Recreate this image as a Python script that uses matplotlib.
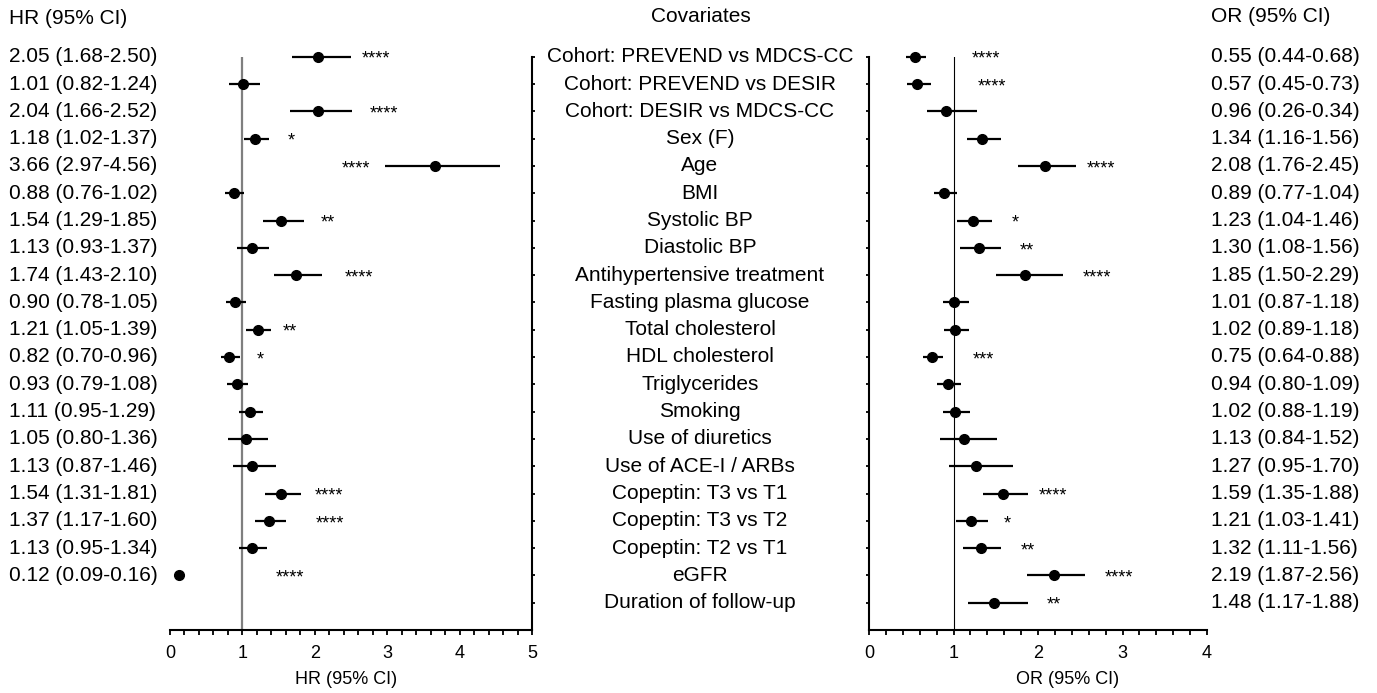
import matplotlib
matplotlib.use("Agg")
import matplotlib.pyplot as plt
from matplotlib.transforms import blended_transform_factory
from matplotlib.ticker import MultipleLocator

plt.rcParams["font.family"] = ["Liberation Sans", "DejaVu Sans"]

covariates = [
    "Cohort: PREVEND vs MDCS-CC", "Cohort: PREVEND vs DESIR", "Cohort: DESIR vs MDCS-CC",
    "Sex (F)", "Age", "BMI", "Systolic BP", "Diastolic BP", "Antihypertensive treatment",
    "Fasting plasma glucose", "Total cholesterol", "HDL cholesterol", "Triglycerides",
    "Smoking", "Use of diuretics", "Use of ACE-I / ARBs", "Copeptin: T3 vs T1",
    "Copeptin: T3 vs T2", "Copeptin: T2 vs T1", "eGFR", "Duration of follow-up",
]

# hazard ratios (left panel), no value for the last covariate
hr = [2.05, 1.01, 2.04, 1.18, 3.66, 0.88, 1.54, 1.13, 1.74, 0.90, 1.21, 0.82, 0.93,
      1.11, 1.05, 1.13, 1.54, 1.37, 1.13, 0.12]
hr_lo = [1.68, 0.82, 1.66, 1.02, 2.97, 0.76, 1.29, 0.93, 1.43, 0.78, 1.05, 0.70, 0.79,
         0.95, 0.80, 0.87, 1.31, 1.17, 0.95, 0.09]
hr_hi = [2.50, 1.24, 2.52, 1.37, 4.56, 1.02, 1.85, 1.37, 2.10, 1.05, 1.39, 0.96, 1.08,
         1.29, 1.36, 1.46, 1.81, 1.60, 1.34, 0.16]
hr_stars = ["****", "", "****", "*", "****", "", "**", "", "****", "", "**", "*", "",
            "", "", "", "****", "****", "", "****"]
hr_star_x = [2.85, 0, 2.95, 1.67, 2.57, 0, 2.18, 0, 2.61, 0, 1.66, 1.25, 0,
             0, 0, 0, 2.20, 2.21, 0, 1.66]

# odds ratios (right panel)
or_ = [0.55, 0.57, 0.91, 1.34, 2.08, 0.89, 1.23, 1.30, 1.85, 1.01, 1.02, 0.75, 0.94,
       1.02, 1.13, 1.27, 1.59, 1.21, 1.32, 2.19, 1.48]
or_lo = [0.44, 0.45, 0.69, 1.16, 1.76, 0.77, 1.04, 1.08, 1.50, 0.87, 0.89, 0.64, 0.80,
         0.88, 0.84, 0.95, 1.35, 1.03, 1.11, 1.87, 1.17]
or_hi = [0.68, 0.73, 1.28, 1.56, 2.45, 1.04, 1.46, 1.56, 2.29, 1.18, 1.18, 0.88, 1.09,
         1.19, 1.52, 1.70, 1.88, 1.41, 1.56, 2.56, 1.88]
or_stars = ["****", "****", "", "", "****", "", "*", "**", "****", "", "", "***", "",
            "", "", "", "****", "*", "**", "****", "**"]
or_star_x = [1.38, 1.45, 0, 0, 2.75, 0, 1.73, 1.87, 2.70, 0, 0, 1.35, 0,
             0, 0, 0, 2.18, 1.64, 1.88, 2.96, 2.19]

# text columns, as printed in the figure
hr_text = ["2.05 (1.68-2.50)", "1.01 (0.82-1.24)", "2.04 (1.66-2.52)", "1.18 (1.02-1.37)",
           "3.66 (2.97-4.56)", "0.88 (0.76-1.02)", "1.54 (1.29-1.85)", "1.13 (0.93-1.37)",
           "1.74 (1.43-2.10)", "0.90 (0.78-1.05)", "1.21 (1.05-1.39)", "0.82 (0.70-0.96)",
           "0.93 (0.79-1.08)", "1.11 (0.95-1.29)", "1.05 (0.80-1.36)", "1.13 (0.87-1.46)",
           "1.54 (1.31-1.81)", "1.37 (1.17-1.60)", "1.13 (0.95-1.34)", "0.12 (0.09-0.16)"]
or_text = ["0.55 (0.44-0.68)", "0.57 (0.45-0.73)", "0.96 (0.26-0.34)", "1.34 (1.16-1.56)",
           "2.08 (1.76-2.45)", "0.89 (0.77-1.04)", "1.23 (1.04-1.46)", "1.30 (1.08-1.56)",
           "1.85 (1.50-2.29)", "1.01 (0.87-1.18)", "1.02 (0.89-1.18)", "0.75 (0.64-0.88)",
           "0.94 (0.80-1.09)", "1.02 (0.88-1.19)", "1.13 (0.84-1.52)", "1.27 (0.95-1.70)",
           "1.59 (1.35-1.88)", "1.21 (1.03-1.41)", "1.32 (1.11-1.56)", "2.19 (1.87-2.56)",
           "1.48 (1.17-1.88)"]

W, H = 1377, 693
fig = plt.figure(figsize=(W / 100, H / 100), dpi=100)

ax1 = fig.add_axes([170 / W, 1 - 630 / H, (532 - 170) / W, (630 - 56.7) / H])
ax2 = fig.add_axes([869 / W, 1 - 630 / H, (1207 - 869) / W, (630 - 56.7) / H])

n = len(covariates)
txt_size = 15
tick_size = 13


def style(ax, xmax, side):
    ax.set_ylim(n, 0)
    ax.set_xlim(0, xmax)
    ax.set_yticks(range(n))
    ax.set_yticklabels([])
    ax.xaxis.set_major_locator(MultipleLocator(1))
    ax.xaxis.set_minor_locator(MultipleLocator(0.2))
    for s in ["top", "left", "right"]:
        ax.spines[s].set_visible(False)
    ax.spines[side].set_visible(True)
    for s in ["bottom", side]:
        ax.spines[s].set_linewidth(1.5)
    ax.tick_params(axis="x", which="both", direction="out", length=3.5, width=1.3,
                   labelsize=tick_size, pad=7)
    ax.tick_params(axis="y", direction="out", length=2.5, width=1.3,
                   left=(side == "left"), right=(side == "right"))
    ax.set_facecolor("none")


style(ax1, 5, "right")
style(ax2, 4, "left")

ax1.axvline(1, color="#7f7f7f", lw=1.6, zorder=1)
ax2.axvline(1, color="black", lw=0.8, zorder=1)

rows_hr = list(range(len(hr)))
eb1 = ax1.errorbar(hr, rows_hr, xerr=[[h - l for h, l in zip(hr, hr_lo)],
                                      [u - h for h, u in zip(hr, hr_hi)]],
                   fmt="o", color="black", ms=7, elinewidth=1.6, capsize=0, zorder=3)
rows_or = list(range(len(or_)))
eb2 = ax2.errorbar(or_, rows_or, xerr=[[o - l for o, l in zip(or_, or_lo)],
                                       [u - o for o, u in zip(or_, or_hi)]],
                   fmt="o", color="black", ms=7, elinewidth=1.6, capsize=0, zorder=3)
for eb in (eb1, eb2):
    for art in eb.get_children():
        art.set_clip_on(False)

for i, s in enumerate(hr_stars):
    if s:
        ax1.text(hr_star_x[i], i + 0.1, s, ha="center", va="center", fontsize=13)
for i, s in enumerate(or_stars):
    if s:
        ax2.text(or_star_x[i], i + 0.1, s, ha="center", va="center", fontsize=13)

tr = blended_transform_factory(fig.transFigure, ax1.transData)
for i, t in enumerate(hr_text):
    fig.text(9 / W, i, t, transform=tr, ha="left", va="center", fontsize=txt_size)
for i, t in enumerate(covariates):
    fig.text(700 / W, i, t, transform=tr, ha="center", va="center", fontsize=txt_size)
for i, t in enumerate(or_text):
    fig.text(1211 / W, i, t, transform=tr, ha="left", va="center", fontsize=txt_size)

fig.text(9 / W, 1 - 18 / H, "HR (95% CI)", ha="left", va="center", fontsize=txt_size)
fig.text(701 / W, 1 - 16 / H, "Covariates", ha="center", va="center", fontsize=txt_size)
fig.text(1211 / W, 1 - 16 / H, "OR (95% CI)", ha="left", va="center", fontsize=txt_size)

ax1.set_xlabel("HR (95% CI)", fontsize=13)
ax1.xaxis.set_label_coords(0.486, -0.071)
ax2.set_xlabel("OR (95% CI)", fontsize=13)
ax2.xaxis.set_label_coords(0.586, -0.071)

fig.savefig("out.png", dpi=100)
